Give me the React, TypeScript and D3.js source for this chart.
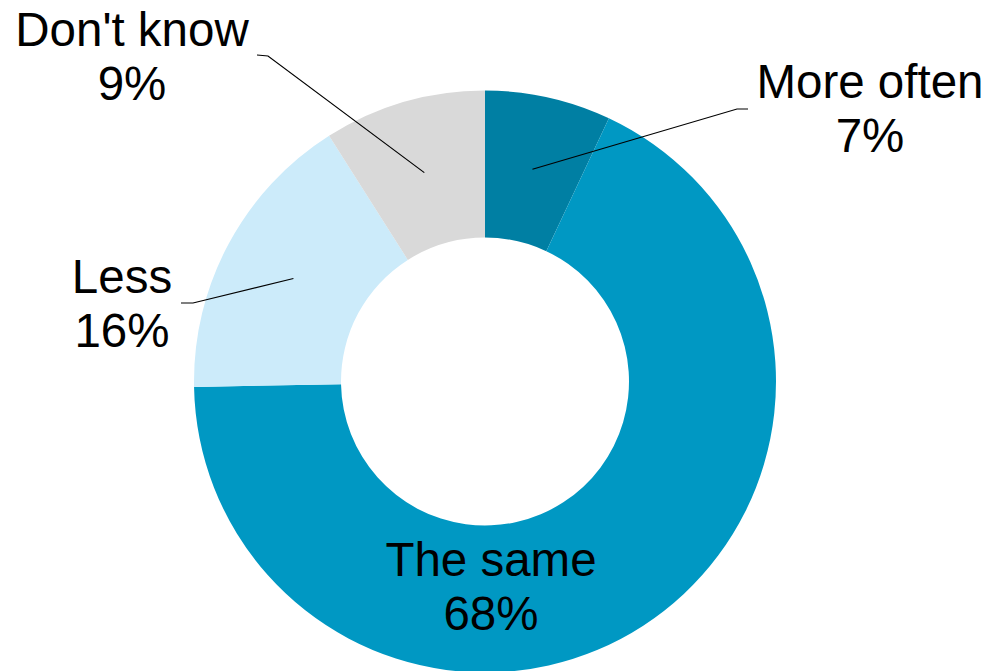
import React from "react";
import * as d3 from "d3";

const categories = ["More often", "The same", "Less", "Don't know"];
const values = [7.0, 67.7, 16.3, 9.0];
const colors = ["#007FA3", "#0098C3", "#CCEBFA", "#D9D9D9"];

// label layout: text center x, first baseline y, leader bend and end points (null = no leader)
const labelLayout = [
  { x: 870, y: 98, bend: [737, 109], end: [748, 109] },
  { x: 491, y: 576, bend: null, end: null },
  { x: 122, y: 293, bend: [193, 303], end: [181, 303] },
  { x: 132, y: 46, bend: [268, 56], end: [257, 55] },
];

const W = 989;
const H = 671;
const cx = 485;
const cy = 381.5;
const outerR = 291;
const innerR = 144;
const fontSize = 47.5;
const lineGap = 54;

export default function App() {
  const pie = d3
    .pie<number>()
    .sort(null)
    .value((d) => d)
    .startAngle(0)
    .endAngle(2 * Math.PI);
  const arcs = pie(values);
  const arcGen = d3.arc<d3.PieArcDatum<number>>().innerRadius(innerR).outerRadius(outerR);
  const total = d3.sum(values);
  const fmt = (v: number) => `${Math.round((v / total) * 100)}%`;

  return (
    <div style={{ position: "absolute", left: 0, top: 0 }}>
      <svg width={W} height={H} style={{ display: "block", background: "#fff" }}>
        <g transform={`translate(${cx},${cy})`}>
          {arcs.map((a, i) => (
            <path key={i} d={arcGen(a) || ""} fill={colors[i]} />
          ))}
        </g>
        {arcs.map((a, i) => {
          const L = labelLayout[i];
          if (!L.bend || !L.end) return null;
          const [c0, c1] = arcGen.centroid(a);
          const pts: [number, number][] = [
            [cx + c0, cy + c1],
            [L.bend[0], L.bend[1]],
            [L.end[0], L.end[1]],
          ];
          const line = d3.line()(pts) || "";
          return <path key={"l" + i} d={line} fill="none" stroke="#000" strokeWidth={1.2} />;
        })}
        {categories.map((c, i) => {
          const L = labelLayout[i];
          return (
            <text
              key={"t" + i}
              x={L.x}
              y={L.y}
              textAnchor="middle"
              fontFamily="'Liberation Sans', Arial, sans-serif"
              fontSize={fontSize}
              fill="#000"
            >
              <tspan x={L.x} y={L.y}>{c}</tspan>
              <tspan x={L.x} y={L.y + lineGap}>{fmt(values[i])}</tspan>
            </text>
          );
        })}
      </svg>
    </div>
  );
}
